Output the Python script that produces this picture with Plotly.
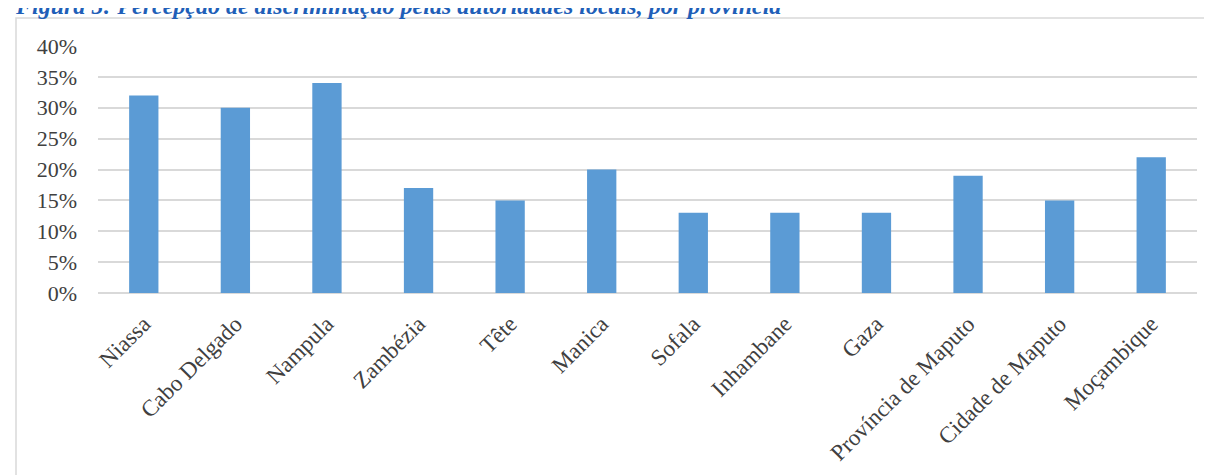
import plotly.graph_objects as go

categories = ["Niassa", "Cabo Delgado", "Nampula", "Zambézia", "Tête", "Manica", "Sofala",
              "Inhambane", "Gaza", "Província de Maputo", "Cidade de Maputo", "Moçambique"]
values = [0.32, 0.30, 0.34, 0.17, 0.15, 0.20, 0.13, 0.13, 0.13, 0.19, 0.15, 0.22]
tick_vals = [0, 0.05, 0.10, 0.15, 0.20, 0.25, 0.30, 0.35, 0.40]
tick_text = ["0%", "5%", "10%", "15%", "20%", "25%", "30%", "35%", "40%"]
title_text = "Figura 5: Percepção de discriminação pelas autoridades locais, por província"

# the page body adds an 8px offset, so the figure is laid out in its own pixel frame
W, H = 1204, 467
L, R, T, B = 90, 15, 38, 182
pw, ph = W - L - R, H - T - B


def px_x(x):
    return (x - L) / pw


def px_y(y):
    return (T + ph - y) / ph


fig = go.Figure(go.Bar(x=categories, y=values, marker=dict(color="#5B9BD5", line=dict(width=0))))

fig.update_layout(
    width=W, height=H,
    margin=dict(l=L, r=R, t=T, b=B, autoexpand=False),
    paper_bgcolor="white", plot_bgcolor="white",
    bargap=0.68,
    showlegend=False,
    font=dict(family="Liberation Serif", color="#404040", size=14),
)
fig.update_yaxes(range=[0, 0.40], tickvals=tick_vals, ticktext=tick_text, automargin=False,
                 showgrid=True, gridcolor="#d9d9d9", gridwidth=1.5,
                 zeroline=True, zerolinecolor="#d9d9d9", zerolinewidth=1.5,
                 showline=False, ticks="", ticklabelstandoff=20,
                 tickfont=dict(family="Liberation Serif", size=22, color="#404040"))
fig.update_xaxes(tickangle=-45, showline=False, ticks="", showgrid=False, automargin=False,
                 ticklabelstandoff=12,
                 tickfont=dict(family="Liberation Serif", size=23, color="#404040"))

# chart area border
fig.add_shape(type="rect", xref="paper", yref="paper",
              x0=px_x(8), x1=px_x(W + 10), y0=px_y(H + 10), y1=px_y(10),
              line=dict(color="#d9d9d9", width=1.5), fillcolor="rgba(0,0,0,0)", layer="below")

fig.add_annotation(text="<b><i>" + title_text + "</i></b>", xref="paper", yref="paper",
                   x=px_x(5), y=px_y(13), xanchor="left", yanchor="bottom",
                   showarrow=False, font=dict(family="Liberation Serif", size=24, color="#1F5FB8"))

fig.write_html("out.html")
